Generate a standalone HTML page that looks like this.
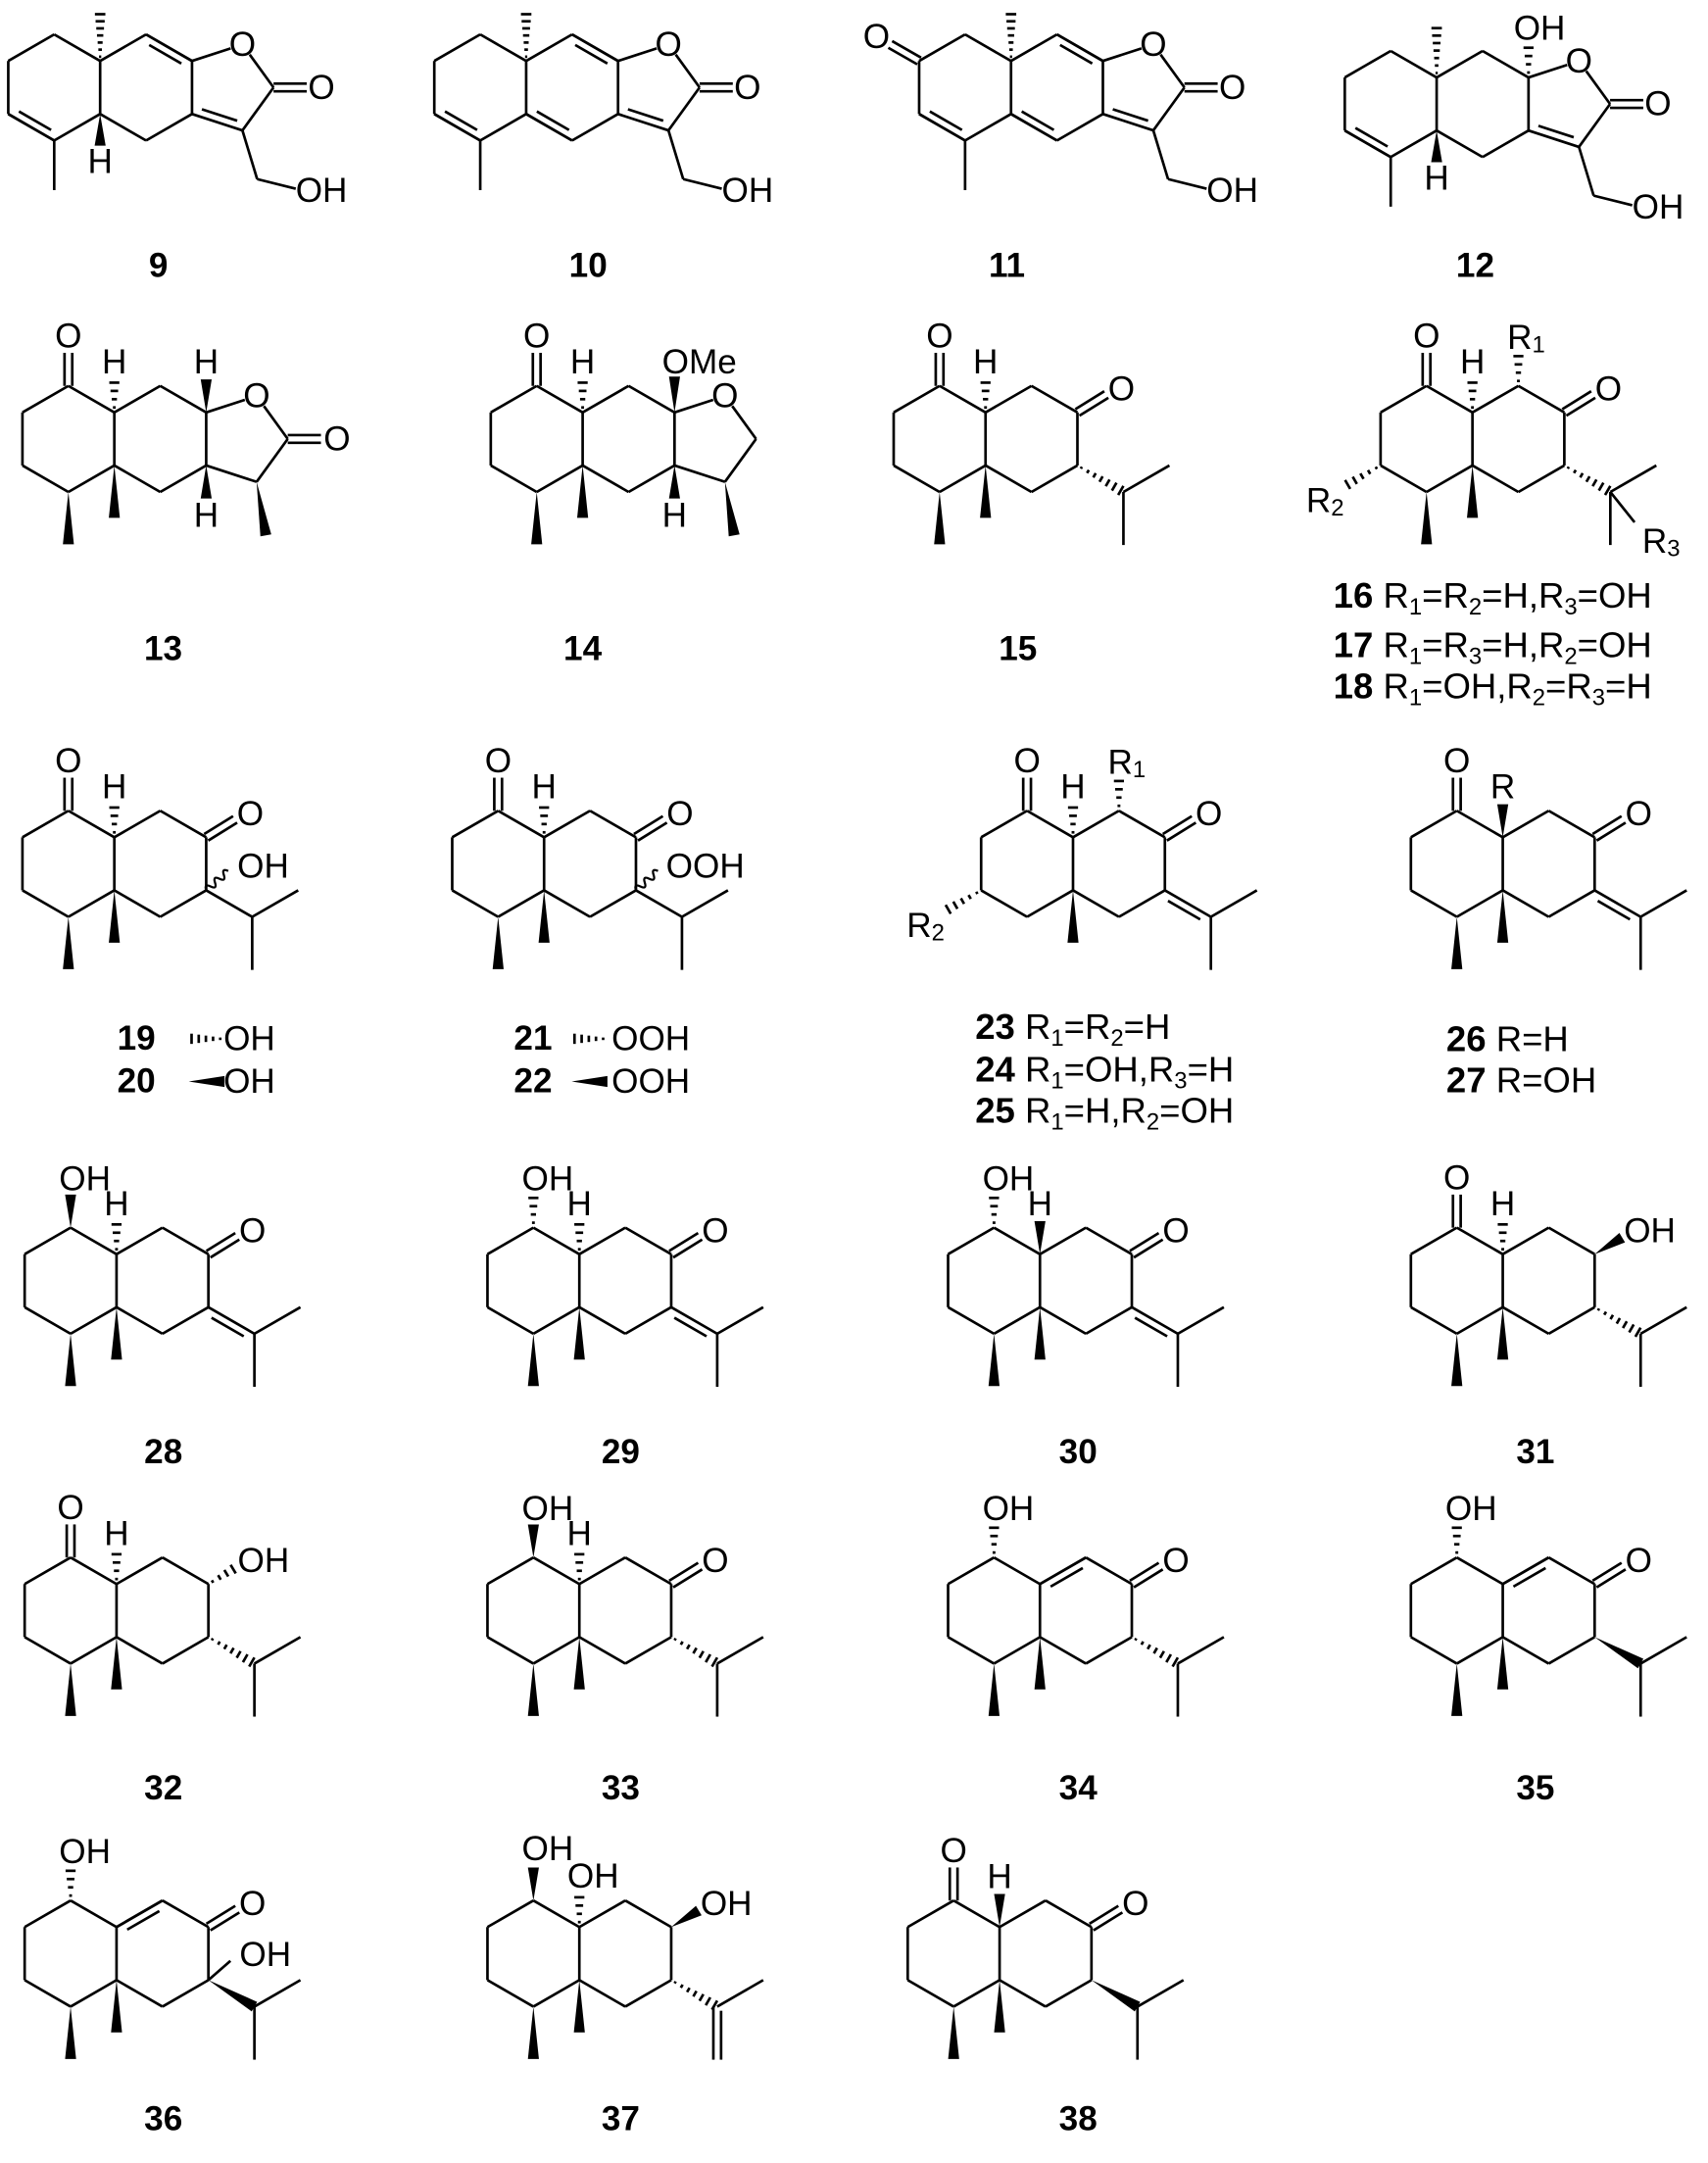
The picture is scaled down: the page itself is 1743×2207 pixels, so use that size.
<!DOCTYPE html>
<html><head><meta charset="utf-8">
<style>
html,body{margin:0;padding:0;background:#fff;}
svg{display:block;}
.a{font-family:"Liberation Sans",Arial,sans-serif;font-size:25px;text-anchor:middle;dominant-baseline:central;fill:#000;}
.n{font-family:"Liberation Sans",Arial,sans-serif;font-size:25px;font-weight:bold;text-anchor:middle;fill:#000;}
.t{font-family:"Liberation Sans",Arial,sans-serif;font-size:26px;fill:#000;}
.bd{font-weight:bold;font-size:26px;}
line{stroke:#000;stroke-width:1.9;stroke-linecap:butt;}
</style></head>
<body>
<svg id="S" xmlns="http://www.w3.org/2000/svg" width="1743" height="2207" viewBox="0 0 1240 1570" preserveAspectRatio="none">
<rect width="1240" height="1570" fill="#fff"/>

<!-- Row 1 -->
<g id="c9" transform="translate(72.7,63.5)">
 <text class="a" x="0" y="54">H</text>
 <text class="a" x="103.3" y="-31.2">O</text>
 <text class="a" x="160.7" y="0">O</text>
 <text class="a" x="160.7" y="75">OH</text>
</g>
<g id="c10" transform="translate(382,63.5)">
 <text class="a" x="103.3" y="-31.2">O</text>
 <text class="a" x="160.7" y="0">O</text>
 <text class="a" x="160.7" y="75">OH</text>
</g>
<g id="c11" transform="translate(734,63.5)">
 <text class="a" x="-97.7" y="-37">O</text>
 <text class="a" x="103.3" y="-31.2">O</text>
 <text class="a" x="160.7" y="0">O</text>
 <text class="a" x="160.7" y="75">OH</text>
</g>
<g id="c12" transform="translate(1043,75.5)">
 <text class="a" x="0" y="54">H</text>
 <text class="a" x="74.7" y="-55">OH</text>
 <text class="a" x="103.3" y="-31.2">O</text>
 <text class="a" x="160.7" y="0">O</text>
 <text class="a" x="160.7" y="75">OH</text>
</g>
<text class="n" x="115" y="201">9</text>
<text class="n" x="427" y="201">10</text>
<text class="n" x="731" y="201">11</text>
<text class="n" x="1071" y="201">12</text>

<!-- Row 2 -->
<g id="c13" transform="translate(83,318.6)">
 <text class="a" x="-33.35" y="-74.5">O</text>
 <text class="a" x="0" y="-55.6">H</text>
 <text class="a" x="66.7" y="-55.6">H</text>
 <text class="a" x="66.7" y="55.6">H</text>
 <text class="a" x="103.3" y="-31.2">O</text>
 <text class="a" x="161.7" y="0">O</text>
</g>
<g id="c14" transform="translate(423,318.6)">
 <text class="a" x="-33.35" y="-74.5">O</text>
 <text class="a" x="0" y="-55.6">H</text>
 <text class="a" x="57.7" y="-55.6" style="text-anchor:start">OMe</text>
 <text class="a" x="66.7" y="55.6">H</text>
 <text class="a" x="103.3" y="-31.2">O</text>
</g>
<g id="c15" transform="translate(715.5,318.6)">
 <text class="a" x="-33.35" y="-74.5">O</text>
 <text class="a" x="0" y="-55.6">H</text>
 <text class="a" x="98.7" y="-36.3">O</text>
</g>
<g id="c16" transform="translate(1069,318.6)">
 <text class="a" x="-33.35" y="-74.5">O</text>
 <text class="a" x="0" y="-55.6">H</text>
 <text class="a" x="98.7" y="-36.3">O</text>
 <text class="a" x="39" y="-73.5">R<tspan font-size="17" dy="5">1</tspan></text>
 <text class="a" x="-107" y="45">R<tspan font-size="17" dy="5">2</tspan></text>
 <text class="a" x="137" y="74.5">R<tspan font-size="17" dy="5">3</tspan></text>
</g>
<text class="n" x="118.5" y="479">13</text>
<text class="n" x="423" y="479">14</text>
<text class="n" x="739" y="479">15</text>
<text class="t" x="968" y="441"><tspan class="bd">16</tspan> R<tspan font-size="17" dy="5">1</tspan><tspan dy="-5">=R</tspan><tspan font-size="17" dy="5">2</tspan><tspan dy="-5">=H,R</tspan><tspan font-size="17" dy="5">3</tspan><tspan dy="-5">=OH</tspan></text>
<text class="t" x="968" y="477"><tspan class="bd">17</tspan> R<tspan font-size="17" dy="5">1</tspan><tspan dy="-5">=R</tspan><tspan font-size="17" dy="5">3</tspan><tspan dy="-5">=H,R</tspan><tspan font-size="17" dy="5">2</tspan><tspan dy="-5">=OH</tspan></text>
<text class="t" x="968" y="507"><tspan class="bd">18</tspan> R<tspan font-size="17" dy="5">1</tspan><tspan dy="-5">=OH,R</tspan><tspan font-size="17" dy="5">2</tspan><tspan dy="-5">=R</tspan><tspan font-size="17" dy="5">3</tspan><tspan dy="-5">=H</tspan></text>

<!-- Row 3 -->
<g id="c19" transform="translate(83,627)">
 <text class="a" x="-33.35" y="-74.5">O</text>
 <text class="a" x="0" y="-55.6">H</text>
 <text class="a" x="98.7" y="-36.3">O</text>
 <text class="a" x="108" y="2">OH</text>
</g>
<g id="c21" transform="translate(395,627)">
 <text class="a" x="-33.35" y="-74.5">O</text>
 <text class="a" x="0" y="-55.6">H</text>
 <text class="a" x="98.7" y="-36.3">O</text>
 <text class="a" x="117" y="2">OOH</text>
</g>
<g id="c23" transform="translate(779,627)">
 <text class="a" x="-33.35" y="-74.5">O</text>
 <text class="a" x="0" y="-55.6">H</text>
 <text class="a" x="98.7" y="-36.3">O</text>
 <text class="a" x="39" y="-73.5">R<tspan font-size="17" dy="5">1</tspan></text>
 <text class="a" x="-107" y="45">R<tspan font-size="17" dy="5">2</tspan></text>
</g>
<g id="c26" transform="translate(1091,627)">
 <text class="a" x="-33.35" y="-74.5">O</text>
 <text class="a" x="0" y="-55.6">R</text>
 <text class="a" x="98.7" y="-36.3">O</text>
</g>
<text class="n" x="99" y="762">19</text>
<text class="n" x="99" y="793">20</text>
<g id="leg19"></g>
<text class="a" x="181" y="754">OH</text>
<text class="a" x="181" y="785">OH</text>
<text class="n" x="387" y="762">21</text>
<text class="n" x="387" y="793">22</text>
<text class="a" x="472.5" y="754">OOH</text>
<text class="a" x="472.5" y="785">OOH</text>
<text class="t" x="708" y="754"><tspan class="bd">23</tspan> R<tspan font-size="17" dy="5">1</tspan><tspan dy="-5">=R</tspan><tspan font-size="17" dy="5">2</tspan><tspan dy="-5">=H</tspan></text>
<text class="t" x="708" y="785"><tspan class="bd">24</tspan> R<tspan font-size="17" dy="5">1</tspan><tspan dy="-5">=OH,R</tspan><tspan font-size="17" dy="5">3</tspan><tspan dy="-5">=H</tspan></text>
<text class="t" x="708" y="815"><tspan class="bd">25</tspan> R<tspan font-size="17" dy="5">1</tspan><tspan dy="-5">=H,R</tspan><tspan font-size="17" dy="5">2</tspan><tspan dy="-5">=OH</tspan></text>
<text class="t" x="1050" y="763"><tspan class="bd">26</tspan> R=H</text>
<text class="t" x="1050" y="793"><tspan class="bd">27</tspan> R=OH</text>

<!-- Row 4 -->
<g id="c28" transform="translate(84.6,929.6)">
 <text class="a" x="-23" y="-74">OH</text>
 <text class="a" x="0" y="-55.6">H</text>
 <text class="a" x="98.7" y="-36.3">O</text>
</g>
<g id="c29" transform="translate(420.6,929.6)">
 <text class="a" x="-23" y="-74">OH</text>
 <text class="a" x="0" y="-55.6">H</text>
 <text class="a" x="98.7" y="-36.3">O</text>
</g>
<g id="c30" transform="translate(755,929.6)">
 <text class="a" x="-23" y="-74">OH</text>
 <text class="a" x="0" y="-55.6">H</text>
 <text class="a" x="98.7" y="-36.3">O</text>
</g>
<g id="c31" transform="translate(1091,929.6)">
 <text class="a" x="-33.35" y="-74.5">O</text>
 <text class="a" x="0" y="-55.6">H</text>
 <text class="a" x="106.7" y="-36.3">OH</text>
</g>
<text class="n" x="118.6" y="1062">28</text>
<text class="n" x="450.6" y="1062">29</text>
<text class="n" x="782.7" y="1062">30</text>
<text class="n" x="1114.7" y="1062">31</text>

<!-- Row 5 -->
<g id="c32" transform="translate(84.6,1169)">
 <text class="a" x="-33.35" y="-74.5">O</text>
 <text class="a" x="0" y="-55.6">H</text>
 <text class="a" x="106.7" y="-36.3">OH</text>
</g>
<g id="c33" transform="translate(420.6,1169)">
 <text class="a" x="-23" y="-74">OH</text>
 <text class="a" x="0" y="-55.6">H</text>
 <text class="a" x="98.7" y="-36.3">O</text>
</g>
<g id="c34" transform="translate(755,1169)">
 <text class="a" x="-23" y="-74">OH</text>
 <text class="a" x="98.7" y="-36.3">O</text>
</g>
<g id="c35" transform="translate(1091,1169)">
 <text class="a" x="-23" y="-74">OH</text>
 <text class="a" x="98.7" y="-36.3">O</text>
</g>
<text class="n" x="118.6" y="1306">32</text>
<text class="n" x="450.6" y="1306">33</text>
<text class="n" x="782.7" y="1306">34</text>
<text class="n" x="1114.7" y="1306">35</text>

<!-- Row 6 -->
<g id="c36" transform="translate(84.6,1418)">
 <text class="a" x="-23" y="-74">OH</text>
 <text class="a" x="98.7" y="-36.3">O</text>
 <text class="a" x="108" y="1">OH</text>
</g>
<g id="c37" transform="translate(420.6,1418)">
 <text class="a" x="-23" y="-76">OH</text>
 <text class="a" x="10" y="-56">OH</text>
 <text class="a" x="106.7" y="-36.3">OH</text>
</g>
<g id="c38" transform="translate(725.7,1418)">
 <text class="a" x="-33.35" y="-74.5">O</text>
 <text class="a" x="0" y="-55.6">H</text>
 <text class="a" x="98.7" y="-36.3">O</text>
</g>
<text class="n" x="118.6" y="1546">36</text>
<text class="n" x="450.6" y="1546">37</text>
<text class="n" x="782.7" y="1546">38</text>
</svg>

<script>
(function(){
var NS='http://www.w3.org/2000/svg';
var s=38.5,w=33.35,h=19.25;
var V={LT:[-w,-s],JU:[0,-h],JD:[0,h],LB:[-w,s],LLL:[-2*w,h],LUL:[-2*w,-h],RT:[w,-s],RUR:[2*w,-h],RLR:[2*w,h],RB:[w,s]};
function el(g,t,a){var e=document.createElementNS(NS,t);for(var k in a)e.setAttribute(k,a[k]);g.insertBefore(e,g.firstChild);return e;}
function P(p){return typeof p==='string'?V[p]:p;}
function U(a,b){var dx=b[0]-a[0],dy=b[1]-a[1],l=Math.sqrt(dx*dx+dy*dy);return [dx/l,dy/l,l];}
function L(g,a,b,sa,sb){a=P(a);b=P(b);sa=sa||0;sb=sb||0;var u=U(a,b);
 el(g,'line',{x1:a[0]+u[0]*sa,y1:a[1]+u[1]*sa,x2:b[0]-u[0]*sb,y2:b[1]-u[1]*sb});}
function D(g,a,b,c){a=P(a);b=P(b);c=P(c);L(g,a,b);var u=U(a,b);var n=[-u[1],u[0]];
 var m=[(a[0]+b[0])/2,(a[1]+b[1])/2];if(n[0]*(c[0]-m[0])+n[1]*(c[1]-m[1])<0)n=[-n[0],-n[1]];
 var o=5.5,sh=u[2]*0.15;
 L(g,[a[0]+u[0]*sh+n[0]*o,a[1]+u[1]*sh+n[1]*o],[b[0]-u[0]*sh+n[0]*o,b[1]-u[1]*sh+n[1]*o]);}
function DC(g,a,b){a=P(a);b=P(b);var u=U(a,b);var n=[-u[1]*2.8,u[0]*2.8];
 L(g,[a[0]+n[0],a[1]+n[1]],[b[0]+n[0],b[1]+n[1]]);L(g,[a[0]-n[0],a[1]-n[1]],[b[0]-n[0],b[1]-n[1]]);}
function W(g,a,b){a=P(a);b=P(b);var u=U(a,b);var n=[-u[1]*4,u[0]*4];
 el(g,'polygon',{points:a[0]+','+a[1]+' '+(b[0]+n[0])+','+(b[1]+n[1])+' '+(b[0]-n[0])+','+(b[1]-n[1]),fill:'#000'});}
function H(g,a,b){a=P(a);b=P(b);var u=U(a,b);var n=[-u[1],u[0]];var N=Math.max(3,Math.round(u[2]/5.5));
 for(var i=0;i<N;i++){var t=(i+0.6)/N;var p=[a[0]+(b[0]-a[0])*t,a[1]+(b[1]-a[1])*t];var hw=0.5+3.5*t;
  L(g,[p[0]+n[0]*hw,p[1]+n[1]*hw],[p[0]-n[0]*hw,p[1]-n[1]*hw]);}}
function WV(g,a,b){a=P(a);b=P(b);var u=U(a,b);var n=[-u[1],u[0]];var k=5,d='M'+a[0]+' '+a[1];
 for(var i=0;i<k;i++){var t1=(i+0.5)/k,t2=(i+1)/k,sg=(i%2?1:-1)*5;
  var c=[a[0]+(b[0]-a[0])*t1+n[0]*sg,a[1]+(b[1]-a[1])*t1+n[1]*sg];var e=[a[0]+(b[0]-a[0])*t2,a[1]+(b[1]-a[1])*t2];
  d+=' Q'+c[0]+' '+c[1]+' '+e[0]+' '+e[1];}
 el(g,'path',{d:d,fill:'none',stroke:'#000','stroke-width':1.6});}
var E=[['LT','JU'],['JU','JD'],['JD','LB'],['LB','LLL'],['LLL','LUL'],['LUL','LT'],['JU','RT'],['RT','RUR'],['RUR','RLR'],['RLR','RB'],['RB','JD']];
function ring(g){E.forEach(function(e){L(g,e[0],e[1]);});}
var LC=[-w,0],RC=[w,0];
function KETL(g){DC(g,'LT',[-w,-s-24]);}
function HUP(g){H(g,'JU',[0,-h-24]);}
function WUP(g){W(g,'JU',[0,-h-24]);}
function MEJ(g){W(g,'JD',[0,h+38]);}
function MEB(g){W(g,'LB',[-w,s+38]);}
function KETR(g){DC(g,'RUR',[2*w+21,-h-13]);}
var IC=[2*w+33.4,s];
function IPR(g,f){f(g,'RLR',IC);L(g,IC,[2*w+66.8,h]);L(g,IC,[2*w+33.4,s+38.5]);}
function YLI(g){D(g,'RLR',IC,[2*w+10,s+25]);L(g,IC,[2*w+66.8,h]);L(g,IC,[2*w+33.4,s+38.5]);}
function OHL(g,f){f(g,'LT',[-w,-s-24]);}
function OHR(g,f){f(g,'RUR',[2*w+20,-h-12]);}
var PO=[103.3,-31.15],PA=[125.9,0],P3=[103.3,31.15],PCn=[93.2,0];
function PENT(g,dbl,co){L(g,'RUR',PO,0,9);L(g,PO,PA,9,0);L(g,PA,P3);
 if(dbl)D(g,P3,'RLR',PCn);else L(g,P3,'RLR');if(co)DC(g,PA,[150,0]);}
function CH2OH(g){L(g,P3,[114,66.5]);L(g,[114,66.5],[142,73.5]);}
function G(id){return document.getElementById(id);}
var g;
g=G('c9');ring(g);H(g,'JU',[0,-h-36]);W(g,'JD',[0,h+23]);L(g,'LB',[-w,s+36]);
D(g,'LLL','LB',LC);D(g,'RT','RUR',RC);PENT(g,true,true);CH2OH(g);
g=G('c10');ring(g);H(g,'JU',[0,-h-36]);L(g,'LB',[-w,s+36]);
D(g,'LLL','LB',LC);D(g,'RT','RUR',RC);D(g,'JD','RB',RC);PENT(g,true,true);CH2OH(g);
g=G('c11');ring(g);H(g,'JU',[0,-h-36]);L(g,'LB',[-w,s+36]);DC(g,'LUL',[-2*w-21,-h-12]);
D(g,'LLL','LB',LC);D(g,'RT','RUR',RC);D(g,'JD','RB',RC);PENT(g,true,true);CH2OH(g);
g=G('c12');ring(g);H(g,'JU',[0,-h-38]);W(g,'JD',[0,h+23]);L(g,'LB',[-w,s+36]);
H(g,'RUR',[2*w,-h-24]);D(g,'LLL','LB',LC);PENT(g,true,true);CH2OH(g);
g=G('c13');ring(g);KETL(g);HUP(g);MEJ(g);MEB(g);W(g,'RUR',[2*w,-h-24]);W(g,'RLR',[2*w,h+24]);
PENT(g,false,true);W(g,P3,[110,70]);
g=G('c14');ring(g);KETL(g);HUP(g);MEJ(g);MEB(g);W(g,'RUR',[2*w,-h-26]);W(g,'RLR',[2*w,h+24]);
PENT(g,false,false);W(g,P3,[110,70]);
g=G('c15');ring(g);KETL(g);HUP(g);MEJ(g);MEB(g);KETR(g);IPR(g,H);
g=G('c16');ring(g);KETL(g);HUP(g);MEJ(g);MEB(g);KETR(g);IPR(g,H);
H(g,'RT',[w,-s-24]);H(g,'LLL',[-2*w-26,h+15]);L(g,IC,[2*w+51,s+22]);
g=G('c19');ring(g);KETL(g);HUP(g);MEJ(g);MEB(g);KETR(g);WV(g,'RLR',[2*w+16,h-14]);IPR(g,L);
g=G('c21');ring(g);KETL(g);HUP(g);MEJ(g);MEB(g);KETR(g);WV(g,'RLR',[2*w+16,h-14]);IPR(g,L);
g=G('leg19');H(g,[163,754],[137,754]);W(g,[137,785],[163,785]);H(g,[441,754],[415,754]);W(g,[415,785],[441,785]);
g=G('c23');ring(g);KETL(g);HUP(g);MEJ(g);KETR(g);YLI(g);H(g,'RT',[w,-s-24]);H(g,'LLL',[-2*w-26,h+15]);
g=G('c26');ring(g);KETL(g);WUP(g);MEJ(g);MEB(g);KETR(g);YLI(g);
g=G('c28');ring(g);OHL(g,W);HUP(g);MEJ(g);MEB(g);KETR(g);YLI(g);
g=G('c29');ring(g);OHL(g,H);HUP(g);MEJ(g);MEB(g);KETR(g);YLI(g);
g=G('c30');ring(g);OHL(g,H);WUP(g);MEJ(g);MEB(g);KETR(g);YLI(g);
g=G('c31');ring(g);KETL(g);HUP(g);MEJ(g);MEB(g);OHR(g,W);IPR(g,H);
g=G('c32');ring(g);KETL(g);HUP(g);MEJ(g);MEB(g);OHR(g,H);IPR(g,H);
g=G('c33');ring(g);OHL(g,W);HUP(g);MEJ(g);MEB(g);KETR(g);IPR(g,H);
g=G('c34');ring(g);OHL(g,H);D(g,'JU','RT',RC);MEJ(g);MEB(g);KETR(g);IPR(g,H);
g=G('c35');ring(g);OHL(g,H);D(g,'JU','RT',RC);MEJ(g);MEB(g);KETR(g);IPR(g,W);
g=G('c36');ring(g);OHL(g,H);D(g,'JU','RT',RC);MEJ(g);MEB(g);KETR(g);L(g,'RLR',[2*w+16,h-14]);IPR(g,W);
g=G('c37');ring(g);OHL(g,W);H(g,'JU',[0,-h-24]);MEJ(g);MEB(g);OHR(g,W);
H(g,'RLR',IC);L(g,IC,[2*w+66.8,h]);L(g,[2*w+30.6,s],[2*w+30.6,s+38.5]);L(g,[2*w+36.2,s+3],[2*w+36.2,s+38.5]);
g=G('c38');ring(g);KETL(g);WUP(g);MEJ(g);MEB(g);KETR(g);IPR(g,W);
})();
</script>
</body></html>
